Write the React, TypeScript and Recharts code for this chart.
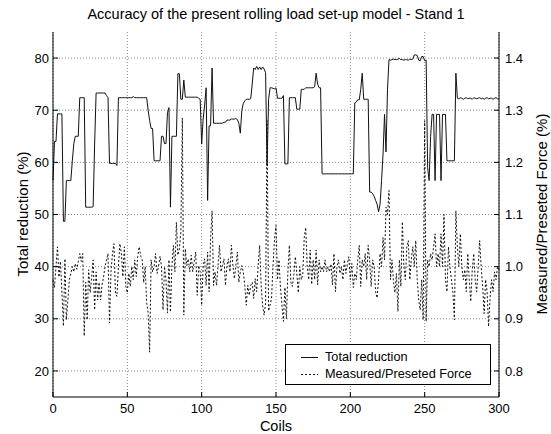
import { ComposedChart, Line, XAxis, YAxis, CartesianGrid } from "recharts";

// Total reduction (%), one value per coil 0..300
const totalReduction = [
  56.5, 64, 64, 69.3, 69.3, 69.3, 69.3, 48.7, 48.7, 56.5,
  56.5, 56.5, 56.5, 60.3, 63.6, 65, 65, 65, 72.4, 72.4,
  72.4, 72.4, 51.4, 51.4, 51.4, 51.4, 51.4, 51.5, 63.5, 73.3,
  73.3, 73.3, 73.3, 73.3, 73.3, 73.3, 72.8, 72.4, 59.8, 59.8,
  59.8, 59.8, 59.8, 59.4, 72.4, 72.4, 72.4, 72.4, 72.4, 72.4,
  72.4, 72.4, 72.4, 72.4, 72.6, 72.4, 72.4, 72.4, 72.4, 72.4,
  72.4, 72.4, 72.4, 72.4, 70, 68, 66.5, 66.5, 60.3, 60.3,
  60.3, 60.3, 60.3, 65, 65, 63.6, 63.6, 69.5, 70.5, 51.4,
  65, 65, 65, 65, 77, 77, 72.1, 72.1, 75.8, 72.5,
  72.5, 72.5, 72.5, 72.5, 72.5, 72.5, 72.5, 72.5, 72.3, 72.1,
  63.5, 68.3, 71, 74.3, 52.7, 67, 67, 78.1, 67.5, 67.5,
  67.5, 67.5, 67.5, 67.5, 67.5, 67.7, 67.7, 68.1, 68.1, 68.1,
  68.3, 68.3, 68.3, 68.4, 68.2, 67.5, 65.6, 69.9, 71.3, 71.8,
  72.1, 72.1, 72.1, 72.2, 75, 78.1, 77.8, 78.4, 77.8, 78.3,
  77.8, 78.3, 77.9, 77.2, 59.4, 72, 74.3, 74.3, 74.2, 74.1,
  74.3, 72.3, 72.3, 72.3, 72.3, 72.8, 59.7, 59.7, 59.7, 72.4,
  72.4, 72.4, 72.4, 72.4, 70.2, 70.2, 70.2, 74, 74, 74,
  74.3, 74.3, 74.3, 74.3, 74.3, 74.3, 74.5, 77.1, 75, 74.3,
  74.3, 57.8, 57.8, 57.8, 57.8, 57.8, 57.8, 57.8, 57.8, 57.8,
  57.8, 57.8, 57.8, 57.8, 57.8, 57.8, 57.8, 57.8, 57.8, 57.8,
  57.8, 57.8, 57.8, 71.4, 71.6, 72, 72, 74, 77.1, 72.1,
  72.1, 72.1, 72.1, 54.3, 54.3, 54, 53.5, 52.7, 52, 50.5,
  52, 56.5, 61.6, 69.2, 62, 74, 79.7, 79.6, 79.7, 79.8,
  79.7, 79.7, 79.8, 79.9, 79.7, 79.7, 79.6, 79.7, 79.7, 79.6,
  79.8, 79.7, 79.8, 80.6, 80.6, 80.5, 79.6, 79.5, 80.3, 80.3,
  79.5, 79.6, 59, 56.5, 65, 69.2, 69.2, 56.5, 69.2, 69.2,
  69.2, 56.5, 69.2, 69.2, 69.2, 60.3, 60.3, 60.3, 60.3, 60.3,
  60.3, 77.1, 72.3, 72.2, 72.4, 72.3, 72.1, 72.3, 72.4, 72.2,
  72.3, 72.3, 72.1, 72.4, 72.3, 72.2, 72.3, 72.4, 72.2, 72.3,
  72.1, 72.3, 72.4, 72.2, 72.3, 72.3, 72.1, 72.3, 72.4, 72.2,
  72.1,
];

// Measured / preseted force ratio, one value per coil 0..300
const forceRatio = [
  0.975, 0.96, 1.0, 1.038, 0.98, 1.01, 0.95, 0.886, 1.015, 0.898,
  0.935, 0.975, 0.987, 1.0, 0.99, 1.006, 0.995, 1.01, 1.025, 1.01,
  1.025, 0.867, 0.97, 0.898, 0.994, 0.95, 0.98, 1.013, 0.917, 0.99,
  0.936, 0.97, 0.936, 0.965, 0.98, 1.0, 1.013, 1.025, 0.892, 0.99,
  1.025, 1.044, 0.949, 0.943, 1.0, 1.044, 1.025, 0.981, 1.038, 0.962,
  0.95, 0.987, 0.962, 1.0, 0.975, 1.013, 0.981, 1.02, 1.038, 1.02,
  1.013, 0.969, 1.0, 0.93, 0.911, 0.836, 1.013, 0.99, 1.0, 1.025,
  0.987, 1.0, 1.02, 1.0, 0.917, 1.0, 0.975, 0.911, 1.013, 0.913,
  1.002, 1.041, 0.99, 1.085, 1.022, 1.034, 1.066, 1.285, 0.907, 1.034,
  1.002, 1.015, 0.99, 1.022, 0.99, 1.01, 1.028, 0.945, 1.002, 0.99,
  0.926, 1.002, 1.015, 0.964, 1.028, 0.952, 1.053, 1.107, 0.964, 0.99,
  0.964, 1.002, 1.041, 0.99, 1.002, 1.015, 0.964, 1.002, 1.015, 0.99,
  1.041, 1.002, 0.977, 1.002, 1.028, 0.97, 0.99, 1.002, 0.99, 0.964,
  0.926, 0.964, 0.945, 0.964, 0.97, 0.939, 0.977, 0.952, 1.002, 1.041,
  0.964, 0.926, 0.907, 0.93, 1.28, 0.915, 0.926, 0.939, 1.002, 1.053,
  1.079, 0.975, 1.013, 0.96, 0.927, 0.895, 0.96, 0.9, 0.99, 1.041,
  0.97, 0.962, 0.985, 1.019, 0.987, 0.95, 1.0, 0.975, 0.985, 1.056,
  1.075, 1.0, 0.975, 1.032, 0.966, 1.013, 0.975, 1.032, 0.965, 1.013,
  0.99, 1.0, 0.99, 1.013, 0.99, 1.0, 0.99, 1.005, 0.965, 1.025,
  0.952, 1.0, 1.013, 0.987, 1.0, 0.975, 1.013, 0.987, 1.006, 1.019,
  0.975, 1.006, 0.96, 0.987, 0.975, 1.013, 1.041, 0.962, 1.013, 1.0,
  1.025, 0.975, 1.041, 1.013, 0.962, 1.013, 1.0, 0.952, 0.94, 0.975,
  1.025, 1.0, 1.056, 1.013, 1.114, 1.1, 1.146, 0.975, 1.013, 0.972,
  0.95, 0.987, 0.914, 1.013, 0.962, 1.086, 1.0, 0.975, 1.038, 1.05,
  0.975, 1.013, 1.038, 1.0, 1.05, 0.975, 0.936, 0.917, 0.975, 0.898,
  1.28, 0.895, 1.013, 1.0, 1.025, 1.013, 1.038, 1.063, 1.0, 1.025,
  1.0, 1.063, 1.0, 1.1, 0.975, 0.952, 1.038, 1.0, 0.975, 0.95,
  0.898, 1.107, 1.038, 1.0, 1.063, 1.0, 0.975, 0.994, 0.952, 1.025,
  0.975, 0.933, 0.994, 1.025, 0.975, 0.952, 1.0, 1.05, 1.0, 0.962,
  0.91, 0.975, 0.952, 0.885, 0.94, 0.975, 0.952, 0.99, 0.975, 1.0,
  0.994,
];

const coilTicks = [0, 50, 100, 150, 200, 250, 300];
const reductionTicks = [20, 30, 40, 50, 60, 70, 80];
const forceTicks = [0.8, 0.9, 1.0, 1.1, 1.2, 1.3, 1.4];

const data = totalReduction.map((total, coil) => ({
  coil,
  total,
  force: forceRatio[coil],
}));

const font = "'Liberation Sans', Arial, Helvetica, sans-serif";
const tickStyle = { fontSize: 13, fill: "#000", fontFamily: font };

export default function App() {
  return (
    <div
      style={{
        position: "absolute",
        left: 0,
        top: 0,
        width: 551,
        height: 434,
        background: "#fff",
        fontFamily: font,
        color: "#000",
        overflow: "hidden",
      }}
    >
      <ComposedChart
        width={551}
        height={434}
        data={data}
        margin={{ top: 32, right: 0, bottom: 0, left: 0 }}
      >
        <CartesianGrid
          yAxisId="left"
          stroke="#8a8a8a"
          strokeDasharray="1 2"
          horizontalValues={reductionTicks}
          verticalValues={coilTicks}
        />
        <XAxis
          dataKey="coil"
          type="number"
          domain={[0, 300]}
          ticks={coilTicks}
          height={37}
          tickSize={-5}
          tickMargin={12}
          tick={tickStyle}
          axisLine={{ stroke: "#000" }}
          tickLine={{ stroke: "#000" }}
        />
        <XAxis
          xAxisId="top"
          orientation="top"
          dataKey="coil"
          type="number"
          domain={[0, 300]}
          ticks={coilTicks}
          height={0}
          tickSize={-5}
          tickFormatter={() => ""}
          axisLine={{ stroke: "#000" }}
          tickLine={{ stroke: "#000" }}
        />
        <YAxis
          yAxisId="left"
          type="number"
          domain={[15, 85]}
          ticks={reductionTicks}
          width={53}
          tickSize={-5}
          tickMargin={9}
          tick={tickStyle}
          axisLine={{ stroke: "#000" }}
          tickLine={{ stroke: "#000" }}
        />
        <YAxis
          yAxisId="right"
          orientation="right"
          type="number"
          domain={[0.75, 1.45]}
          ticks={forceTicks}
          tickFormatter={(v: number) => v.toFixed(1)}
          width={52}
          tickSize={-5}
          tickMargin={11}
          tick={tickStyle}
          axisLine={{ stroke: "#000" }}
          tickLine={{ stroke: "#000" }}
        />
        <Line
          yAxisId="left"
          type="linear"
          dataKey="total"
          stroke="#111"
          strokeWidth={1}
          dot={false}
          isAnimationActive={false}
        />
        <Line
          yAxisId="right"
          type="linear"
          dataKey="force"
          stroke="#111"
          strokeWidth={1}
          strokeDasharray="2 2"
          dot={false}
          isAnimationActive={false}
        />
      </ComposedChart>

      <div
        style={{
          position: "absolute",
          left: 53,
          width: 446,
          top: 5,
          textAlign: "center",
          fontSize: 14.5,
          lineHeight: "18px",
        }}
      >
        Accuracy of the present rolling load set-up model - Stand 1
      </div>
      <div
        style={{
          position: "absolute",
          left: 53,
          width: 446,
          top: 418,
          textAlign: "center",
          fontSize: 14.5,
          lineHeight: "16px",
        }}
      >
        Coils
      </div>
      <div
        style={{
          position: "absolute",
          left: 22,
          top: 214,
          transform: "translate(-50%, -50%) rotate(-90deg)",
          whiteSpace: "nowrap",
          fontSize: 15,
        }}
      >
        Total reduction (%)
      </div>
      <div
        style={{
          position: "absolute",
          left: 541,
          top: 214,
          transform: "translate(-50%, -50%) rotate(-90deg)",
          whiteSpace: "nowrap",
          fontSize: 15,
        }}
      >
        Measured/Preseted Force (%)
      </div>

      <div
        style={{
          position: "absolute",
          left: 285,
          top: 344,
          width: 204,
          height: 39,
          border: "1px solid #000",
          background: "#fff",
          fontSize: 12.7,
        }}
      >
        <svg style={{ position: "absolute", left: 0, top: 0 }} width={40} height={40}>
          <line x1={15} x2={32} y1={12.5} y2={12.5} stroke="#111" strokeWidth={1} />
          <line x1={15} x2={32} y1={29.5} y2={29.5} stroke="#111" strokeWidth={1} strokeDasharray="2 2" />
        </svg>
        <div style={{ position: "absolute", left: 39, top: 4, lineHeight: "17px", whiteSpace: "nowrap" }}>
          Total reduction
        </div>
        <div style={{ position: "absolute", left: 39, top: 21, lineHeight: "17px", whiteSpace: "nowrap" }}>
          Measured/Preseted Force
        </div>
      </div>
    </div>
  );
}
